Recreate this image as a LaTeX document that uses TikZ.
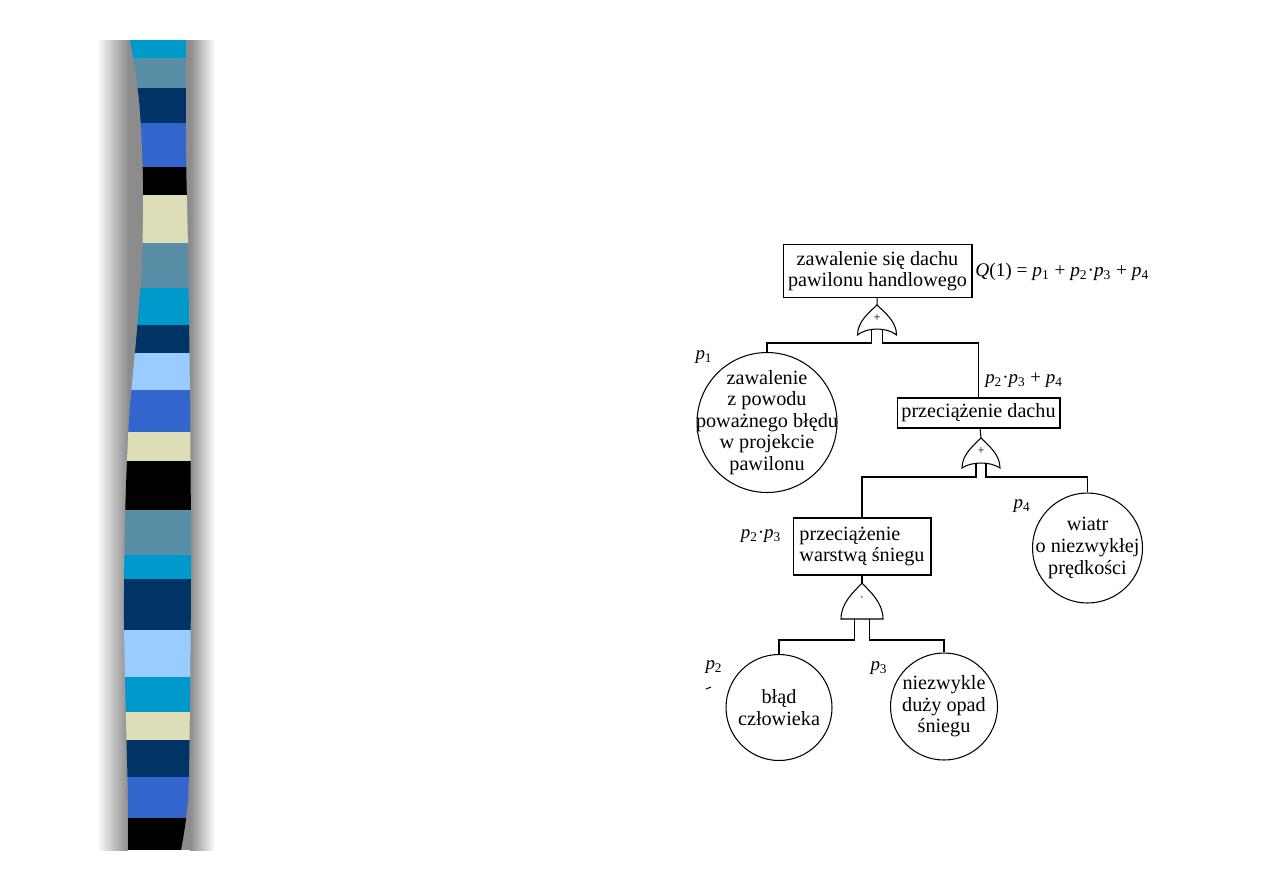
\documentclass[tikz,border=0pt]{standalone}
\usepackage{fontspec}
\setmainfont{Liberation Serif}
\usetikzlibrary{positioning}

\definecolor{stripcyan}{RGB}{0,153,204}
\definecolor{stripsteel}{RGB}{88,142,166}
\definecolor{stripnavy}{RGB}{0,51,102}
\definecolor{striproyal}{RGB}{51,102,204}
\definecolor{stripbeige}{RGB}{221,221,184}
\definecolor{striplight}{RGB}{153,204,255}
\definecolor{shadowgray}{RGB}{140,140,140}

\newcommand\pv[1]{\textit{p}\textsubscript{#1}}

\tikzset{
  eventbox/.style={draw,line width=0.6pt,align=center,inner sep=0pt},
  basicev/.style={draw,circle,line width=0.6pt,inner sep=0pt,minimum size=#1},
  evtext/.style={align=center,inner sep=0pt},
  plabel/.style={inner sep=0pt,font=\fontsize{10.8}{12}\selectfont},
  conn/.style={line width=0.6pt},
  % gate: symbol / half width / height / rise of base / leg offset / depth of branch line
  pics/ftgate/.style args={#1/#2/#3/#4/#5/#6}{code={
    \draw[conn] (0,0) .. controls ({0.4*#2},{0.25*#3}) and ({#2},{0.55*#3}) .. (#2,#3)
      .. controls ({0.5*#2},{#3-1.33*#4}) and ({-0.5*#2},{#3-1.33*#4}) .. (-#2,#3)
      .. controls ({-#2},{0.55*#3}) and ({-0.4*#2},{0.25*#3}) .. cycle;
    \node[font=\fontsize{7}{7}\selectfont,inner sep=0pt] (-op) at (0,{0.45*#3}) {#1};
    \coordinate (-top) at (0,0);
    \coordinate (-la) at (-#5,{#3-0.9*#4});
    \coordinate (-lb) at (-#5,#6);
    \coordinate (-ra) at (#5,{#3-0.9*#4});
    \coordinate (-rb) at (#5,#6);
  }}
}

\begin{document}
\begin{tikzpicture}[x=0.02cm,y=-0.02cm,
    every node/.style={font=\fontsize{11.5}{12.3}\selectfont}]
  \useasboundingbox (0,0) rectangle (1263,893);

  % striped bar on the left
  \shade[left color=white,right color=shadowgray] (97,40) rectangle (128,850);
  \fill[shadowgray] (128,40) rectangle (190,850);
  \shade[left color=shadowgray,right color=white] (190,40) rectangle (215,850);
  \begin{scope}
    \clip plot[smooth] coordinates {(130,40) (139,100) (143,180) (142,260) (137,330)
        (129,420) (125,520) (124,620) (126,720) (128,800) (128,850)}
      -- plot[smooth] coordinates {(181,850) (188,800) (190,700) (191,560) (190,400)
        (188,250) (186,150) (186,40)} -- cycle;
    \foreach \ya/\yb/\col in {40/58/stripcyan,58/88/stripsteel,88/123/stripnavy,
        123/167/striproyal,167/195/black,195/243/stripbeige,243/288/stripsteel,
        288/325/stripcyan,325/353/stripnavy,353/390/striplight,390/432/striproyal,
        432/461/stripbeige,461/510/black,510/555/stripsteel,555/579/stripcyan,
        579/630/stripnavy,630/677/striplight,677/712/stripcyan,712/740/stripbeige,
        740/777/stripnavy,777/818/striproyal,818/850/black}
      \fill[\col] (100,\ya) rectangle (220,\yb);
  \end{scope}

  % events
  \node[eventbox,minimum width=3.78cm,minimum height=1.06cm] (roof) at (877.5,271)
    {zawalenie się dachu\\pawilonu handlowego};
  \node[eventbox,minimum width=3.26cm,minimum height=0.6cm] (overload) at (978.5,413)
    {przeciążenie dachu};
  \node[eventbox,align=left,minimum width=2.76cm,minimum height=1.14cm] (snowload) at (862,546.5)
    {przeciążenie\\warstwą śniegu};
  \node[basicev=2.8cm] (design) at (767,422.5) {};
  \node[evtext] (designtxt) at (design) {zawalenie\\z powodu\\poważnego błędu\\w projekcie\\pawilonu};
  \node[basicev=2.2cm] (wind) at (1087.5,548) {};
  \node[evtext] (windtxt) at (wind) {wiatr\\o niezwykłej\\prędkości};
  \node[basicev=2.12cm] (human) at (779,707.5) {};
  \node[evtext] (humantxt) at (human) {błąd\\człowieka};
  \node[basicev=2.14cm] (snow) at (944,706.5) {};
  \node[evtext] (snowtxt) at (snow) {niezwykle\\duży opad\\śniegu};

  % probabilities
  \node[plabel,anchor=west,font=\fontsize{11}{12}\selectfont] (qtop) at (975,272)
    {\textit{Q}(1) = \pv{1} + \pv{2}·\pv{3} + \pv{4}};
  \node[plabel] (lp1) at (704,357) {\pv{1}};
  \node[plabel] (lover) at (1024,380) {\pv{2}·\pv{3} + \pv{4}};
  \node[plabel] (lp4) at (1022,506) {\pv{4}};
  \node[plabel] (lsnowload) at (761,536) {\pv{2}·\pv{3}};
  \node[plabel] (lp2) at (714,667) {\pv{2}};
  \node[plabel] (lp3) at (879,668) {\pv{3}};
  \draw[line width=0.6pt] (706,689)--(711,687);

  % gates
  \pic (g1) at (877,305) {ftgate={+/19.5/30/6/5.5/38}};
  \pic (g2) at (981,438) {ftgate={+/19/30/5/5/39}};
  \pic (g3) at (862,583) {ftgate={·/21/36/0/7.5/57}};

  % connections
  \draw[conn] (roof) -- (g1-top);
  \draw[conn] (g1-la) -- (g1-lb) -| (design);
  \draw[conn] (g1-ra) -- (g1-rb) -| (overload);
  \draw[conn] (overload) -- (g2-top);
  \draw[conn] (g2-la) -- (g2-lb) -| (snowload);
  \draw[conn] (g2-ra) -- (g2-rb) -| (wind);
  \draw[conn] (snowload) -- (g3-top);
  \draw[conn] (g3-la) -- (g3-lb) -| (human);
  \draw[conn] (g3-ra) -- (g3-rb) -| (snow);
\end{tikzpicture}
\end{document}
